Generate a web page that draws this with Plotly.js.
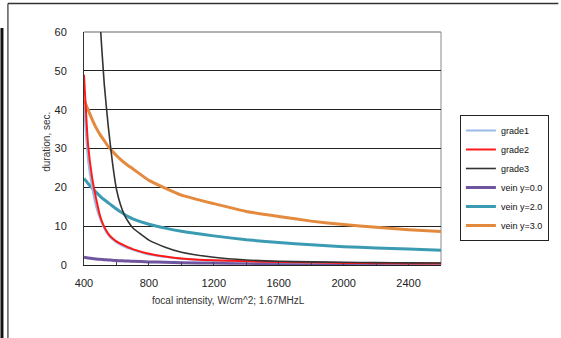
<!DOCTYPE html>
<html>
<head>
<meta charset="utf-8">
<script src="https://cdn.plot.ly/plotly-3.0.1.min.js"></script>
<style>
  html, body { margin: 0; padding: 0; background: #fff; }
  #chart { width: 561px; height: 338px; }
</style>
</head>
<body>
<div id="chart"></div>
<script>
// ---- data ----
const intensity = [400,425,450,475,500,525,550,575,600,625,650,675,700,800,900,1000,1200,1400,1600,1800,2000,2200,2400,2600];
const grade1    = [41,27,20,15,11.8,9.4,7.7,6.6,5.8,5.2,4.7,4.3,3.9,2.7,2.1,1.6,1.1,0.85,0.7,0.58,0.5,0.43,0.38,0.34];
const grade2    = [49,31,22.5,17,12.5,9.8,8.0,6.9,6.1,5.5,5.0,4.5,4.1,2.9,2.2,1.7,1.2,0.95,0.75,0.62,0.52,0.45,0.4,0.36];
const grade3    = [250,170,120,85,62,46.5,35.5,26.5,19.5,15.5,12.8,11,9.6,6.4,4.6,3.3,2.0,1.3,0.95,0.8,0.7,0.6,0.55,0.5];
const vein0     = [2.0,1.8,1.65,1.55,1.45,1.38,1.3,1.22,1.15,1.1,1.05,1.0,0.95,0.8,0.7,0.6,0.5,0.42,0.36,0.32,0.28,0.25,0.23,0.21];
const vein2     = [22.3,21,19.8,18.7,17.7,16.8,16,15.2,14.4,13.7,13,12.4,11.9,10.5,9.5,8.7,7.5,6.5,5.8,5.2,4.7,4.4,4.1,3.8];
const vein3     = [42.5,40,37.5,35.3,33.5,32,30.5,29.3,28.2,27.2,26.3,25.5,24.8,21.8,19.8,18.0,15.8,13.8,12.5,11.3,10.4,9.7,9.1,8.6];

const seriesNames = ["grade1","grade2","grade3","vein y=0.0","vein y=2.0","vein y=3.0"];
const xTickVals = [400,600,800,1000,1200,1400,1600,1800,2000,2200,2400,2600];
const xTickText = ["400","","800","","1200","","1600","","2000","","2400",""];
const yTickVals = [0,10,20,30,40,50,60];

// ---- layout geometry (pixels) ----
const W = 561, H = 338;
const L = 84, R = 443, T = 32, B = 265;
const px = v => (v - L) / (R - L);
const py = v => (B - v) / (B - T);

const styles = [
  {color: "#99b9e6", width: 2},
  {color: "#ff1a1a", width: 2},
  {color: "#333333", width: 1.6},
  {color: "#6f54a0", width: 3},
  {color: "#3b9bb2", width: 3},
  {color: "#e38a3e", width: 3}
];
const ys = [grade1, grade2, grade3, vein0, vein2, vein3];

const traces = ys.map((y, i) => ({
  type: "scatter", mode: "lines",
  x: intensity, y: y, name: seriesNames[i],
  line: {color: styles[i].color, width: styles[i].width, shape: "spline", smoothing: 0.5}
}));
// draw order: thick vein lines under grade lines roughly as in reference
const order = [3,4,5,0,1,2];
const data = order.map(i => traces[i]);
data.forEach(t => { t.legendrank = seriesNames.indexOf(t.name) + 1; });

const font = "Liberation Sans, Arial, sans-serif";

const layout = {
  width: W, height: H,
  margin: {l: L, r: W - R, t: T, b: H - B, pad: 0},
  paper_bgcolor: "#ffffff",
  plot_bgcolor: "#ffffff",
  showlegend: true,
  font: {family: font, size: 11, color: "#222"},
  xaxis: {
    range: [400, 2600], tickvals: xTickVals, ticktext: xTickText,
    ticks: "inside", ticklen: 3, tickcolor: "#444", tickwidth: 1,
    showgrid: false, zeroline: false,
    showline: true, linecolor: "#222", linewidth: 1,
    tickfont: {family: font, size: 11, color: "#222"},
    ticklabelstandoff: 8,
    fixedrange: true
  },
  yaxis: {
    range: [0, 60], tickvals: yTickVals,
    ticks: "", showgrid: true, gridcolor: "#222", gridwidth: 1,
    zeroline: false, showline: true, linecolor: "#333", linewidth: 1,
    tickfont: {family: font, size: 11, color: "#222"},
    ticklabelstandoff: 14,
    fixedrange: true
  },
  legend: {
    x: px(462), y: py(115), xanchor: "left", yanchor: "top",
    bordercolor: "#222", borderwidth: 1, bgcolor: "#fff",
    font: {family: font, size: 9, color: "#111"},
    traceorder: "normal", itemwidth: 30
  },
  annotations: [
    {text: "duration, sec.", xref: "paper", yref: "paper", x: px(38), y: py(142),
     textangle: -90, showarrow: false, font: {family: font, size: 10, color: "#333"}},
    {text: "focal intensity, W/cm^2; 1.67MHzL", xref: "paper", yref: "paper", x: px(229), y: py(308),
     showarrow: false, font: {family: font, size: 10, color: "#333"}}
  ],
  shapes: [
    {type: "line", xref: "paper", yref: "paper", x0: 0, x1: 1, y0: 1, y1: 1, layer: "between",
     line: {color: "#9a9a9a", width: 1.5}},
    {type: "line", xref: "paper", yref: "paper", x0: 1, x1: 1, y0: 0, y1: 1, layer: "between",
     line: {color: "#8a8a8a", width: 1}},
    {type: "line", xref: "paper", yref: "paper", x0: px(7.5), x1: px(561), y0: py(3.5), y1: py(3.5), layer: "above",
     line: {color: "#333", width: 1.5}},
    {type: "line", xref: "paper", yref: "paper", x0: px(7.5), x1: px(7.5), y0: py(3.5), y1: py(338), layer: "above",
     line: {color: "#333", width: 1.2}},
    {type: "rect", xref: "paper", yref: "paper", x0: px(0), x1: px(3), y0: py(28), y1: py(338), layer: "above",
     fillcolor: "#111", line: {width: 0}}
  ]
};

Plotly.newPlot("chart", data, layout, {staticPlot: true, displayModeBar: false});
</script>
</body>
</html>
